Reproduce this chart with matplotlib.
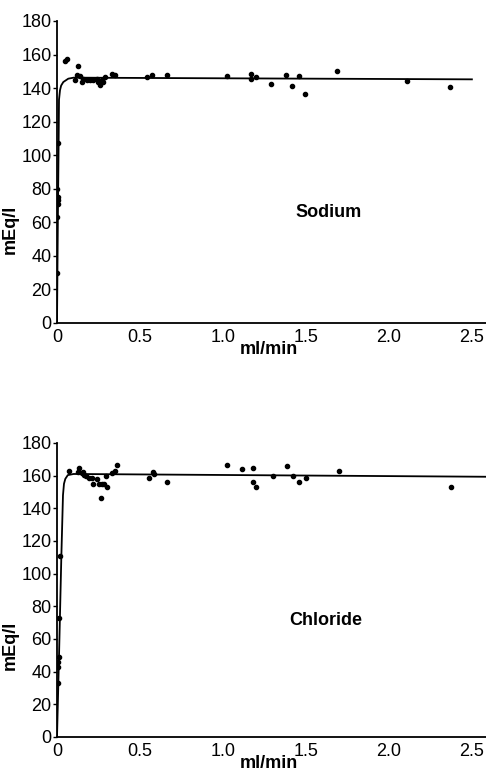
import matplotlib
matplotlib.use('Agg')
import matplotlib.pyplot as plt

plt.rcParams['font.family'] = ['Liberation Sans', 'DejaVu Sans']

# Sodium: measured points
na_x = [0.001, 0.002, 0.003, 0.004, 0.003, 0.002, 0.004,
        0.048, 0.062, 0.108, 0.118, 0.128, 0.139, 0.149, 0.159, 0.179, 0.199,
        0.219, 0.239, 0.249, 0.259, 0.269, 0.279, 0.289, 0.33, 0.349,
        0.544, 0.574, 0.66, 1.022, 1.17, 1.17, 1.199, 1.29, 1.38, 1.416,
        1.46, 1.494, 1.69, 2.108, 2.37]
na_y = [30, 63, 71, 73, 75, 80, 107,
        156, 157.6, 144.6, 147.6, 153, 147, 143.6, 145.6, 145, 144.6,
        145, 145.6, 143.6, 141.7, 145, 143.6, 146.3, 148.6, 147.6,
        146.6, 147.6, 147.6, 147, 148.2, 145.6, 146.6, 142.7, 147.6, 141,
        147.2, 136.7, 150.4, 144.2, 140.9]

# Sodium: fitted curve
na_curve_x = [0, 0.005, 0.01, 0.012, 0.018, 0.025, 0.038, 0.068, 0.1, 2.5]
na_curve_y = [0, 60, 110, 133, 138.7, 141.5, 143.6, 145.6, 146.2, 145.2]

# Chloride: measured points
cl_x = [0.004, 0.006, 0.008, 0.012, 0.012, 0.018,
        0.072, 0.134, 0.128, 0.149, 0.159, 0.165, 0.175, 0.195, 0.209, 0.215,
        0.239, 0.255, 0.269, 0.283, 0.263, 0.303, 0.295, 0.33, 0.349, 0.36,
        0.554, 0.58, 0.584, 0.66,
        1.022, 1.112, 1.178, 1.178, 1.199, 1.299, 1.387, 1.42, 1.46, 1.5,
        1.697, 2.373]
cl_y = [33, 43, 46, 49, 73, 111,
        163, 164.9, 162, 161.5, 162, 160.4, 160, 158.8, 158.4, 154.7,
        158, 154.7, 154.7, 154.7, 146.5, 153.3, 160, 161.5, 162.9, 166.6,
        158.4, 162.5, 161, 156.3,
        166.6, 164, 164.5, 156, 153, 160, 166, 160, 156, 158.8,
        162.9, 153]

# Chloride: fitted curve
cl_curve_x = [0, 0.012, 0.026, 0.036, 0.042, 0.05, 0.065, 0.1, 2.585]
cl_curve_y = [0, 49, 110, 148, 155, 158, 160.3, 161, 159.3]

y_ticks = [0, 20, 40, 60, 80, 100, 120, 140, 160, 180]
x_ticks = [0, 0.5, 1.0, 1.5, 2.0, 2.5]
x_tick_labels = ['0', '0.5', '1.0', '1.5', '2.0', '2.5']

fig = plt.figure(figsize=(4.86, 7.76), dpi=100)
ax_na = fig.add_axes([0.1173, 0.5838, 0.8827, 0.3892])
ax_cl = fig.add_axes([0.1173, 0.0503, 0.8827, 0.3789])


def style_axes(ax, label_x_pos):
    ax.set_xlim(0, 2.585)
    ax.set_ylim(0, 180)
    for side in ['top', 'right']:
        ax.spines[side].set_visible(False)
    for side in ['left', 'bottom']:
        ax.spines[side].set_linewidth(1.3)
    ax.set_yticks(y_ticks)
    ax.set_xticks(x_ticks)
    ax.set_xticklabels(x_tick_labels)
    ax.tick_params(axis='y', length=3, width=1, pad=1, labelsize=13)
    ax.tick_params(axis='x', length=0, pad=4, labelsize=13)
    ax.set_ylabel('mEq/l', fontsize=13, fontweight='bold')
    ax.yaxis.set_label_coords(-0.09, 0.31)
    ax.set_xlabel('ml/min', fontsize=13, fontweight='bold')
    ax.xaxis.set_label_coords(0.495, label_x_pos)


ax_na.plot(na_curve_x, na_curve_y, color='black', lw=1.3)
ax_na.plot(na_x, na_y, 'o', color='black', ms=3)
ax_na.text(1.635, 66, 'Sodium', fontsize=13, fontweight='bold', ha='center', va='center')
style_axes(ax_na, -0.06)

ax_cl.plot(cl_curve_x, cl_curve_y, color='black', lw=1.3)
ax_cl.plot(cl_x, cl_y, 'o', color='black', ms=3)
ax_cl.text(1.62, 71, 'Chloride', fontsize=13, fontweight='bold', ha='center', va='center')
style_axes(ax_cl, -0.062)

fig.savefig('out.png', dpi=100)
